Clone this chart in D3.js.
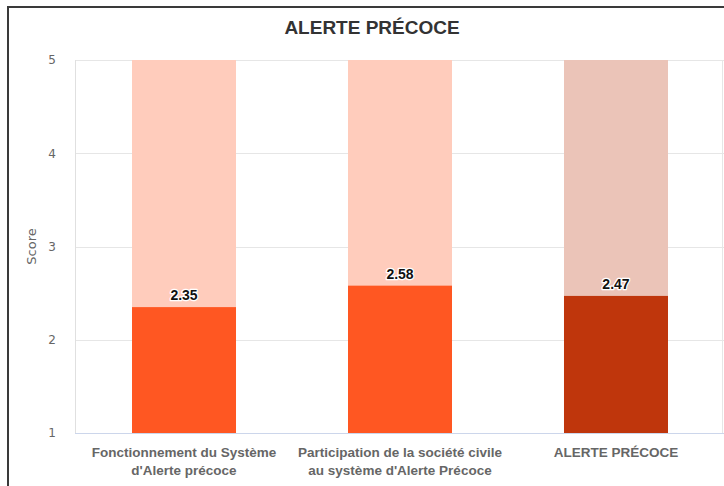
<!DOCTYPE html>
<html>
<head>
<meta charset="utf-8">
<script src="https://cdn.jsdelivr.net/npm/d3@7"></script>
<style>
  body { margin: 0; background: #fff; }
  svg { display: block; font-family: "Liberation Sans", Arial, sans-serif; }
</style>
</head>
<body>
<div id="chart"></div>
<script>
// data
var categories = [
  ["Fonctionnement du Système", "d'Alerte précoce"],
  ["Participation de la société civile", "au système d'Alerte Précoce"],
  ["ALERTE PRÉCOCE"]
];
var scores = [2.35, 2.58, 2.47];
var barColors = ["#ff5722", "#ff5722", "#bf360c"];
var backColors = ["#ffccbc", "#ffccbc", "#ebc4b8"];
var yTicks = [1, 2, 3, 4, 5];

var width = 724, height = 486;
var plotLeft = 76, plotRight = 724, plotTop = 60, plotBottom = 433;

var svg = d3.select("#chart").append("svg")
  .attr("width", width)
  .attr("height", height);

// outer frame (cropped at right and bottom)
svg.append("path")
  .attr("d", "M8,486 L8,7 L724,7")
  .attr("fill", "none")
  .attr("stroke", "#3a3a3a")
  .attr("stroke-width", 2);

svg.append("text")
  .attr("x", 372)
  .attr("y", 34)
  .attr("text-anchor", "middle")
  .attr("font-size", 19)
  .attr("font-weight", "bold")
  .attr("fill", "#333")
  .text("ALERTE PRÉCOCE");

var x = d3.scaleBand()
  .domain(d3.range(categories.length))
  .range([plotLeft, plotRight])
  .paddingInner(0.5185)
  .paddingOuter(0.2593);

var y = d3.scaleLinear()
  .domain([1, 5])
  .range([plotBottom, plotTop]);

// grid
svg.append("g").selectAll("line")
  .data(yTicks)
  .join("line")
  .attr("x1", plotLeft - 1)
  .attr("x2", plotRight)
  .attr("y1", function(d){ return Math.round(y(d)) + 0.5; })
  .attr("y2", function(d){ return Math.round(y(d)) + 0.5; })
  .attr("stroke", "#e6e6e6");

// left & right plot edges
svg.append("line")
  .attr("x1", plotLeft - 0.5).attr("x2", plotLeft - 0.5)
  .attr("y1", plotTop).attr("y2", plotBottom)
  .attr("stroke", "#e0e0e0");
svg.append("line")
  .attr("x1", plotRight - 1.5).attr("x2", plotRight - 1.5)
  .attr("y1", plotTop).attr("y2", plotBottom)
  .attr("stroke", "#e6e6e6");

// background bars up to max
svg.append("g").selectAll("rect")
  .data(scores)
  .join("rect")
  .attr("x", function(d, i){ return x(i); })
  .attr("width", x.bandwidth())
  .attr("y", y(5))
  .attr("height", y(1) - y(5))
  .attr("fill", function(d, i){ return backColors[i]; });

// score bars
svg.append("g").selectAll("rect")
  .data(scores)
  .join("rect")
  .attr("x", function(d, i){ return x(i); })
  .attr("width", x.bandwidth())
  .attr("y", function(d){ return y(d); })
  .attr("height", function(d){ return y(1) - y(d); })
  .attr("fill", function(d, i){ return barColors[i]; });

// value labels
svg.append("g").selectAll("text")
  .data(scores)
  .join("text")
  .attr("x", function(d, i){ return x(i) + x.bandwidth() / 2; })
  .attr("y", function(d){ return y(d) - 7; })
  .attr("text-anchor", "middle")
  .attr("font-size", 14)
  .attr("font-weight", "bold")
  .attr("fill", "#111")
  .attr("stroke", "#fff")
  .attr("stroke-width", 2.5)
  .attr("stroke-linejoin", "round")
  .attr("paint-order", "stroke")
  .text(function(d){ return d.toFixed(2); });

// bottom axis line
svg.append("line")
  .attr("x1", plotLeft - 1).attr("x2", plotRight)
  .attr("y1", plotBottom + 0.5).attr("y2", plotBottom + 0.5)
  .attr("stroke", "#ccd6eb");

// y axis labels
var yAxis = d3.axisLeft(y).tickValues(yTicks).tickFormat(d3.format("d")).tickSize(0).tickPadding(0);
var yg = svg.append("g")
  .attr("transform", "translate(56,0)")
  .call(yAxis);
yg.select(".domain").remove();
yg.selectAll("text")
  .attr("font-size", 12)
  .attr("font-family", "'DejaVu Sans', sans-serif")
  .attr("fill", "#666");

svg.append("text")
  .attr("transform", "translate(36," + y(3) + ") rotate(-90)")
  .attr("text-anchor", "middle")
  .attr("font-size", 13)
  .attr("font-family", "'DejaVu Sans', sans-serif")
  .attr("fill", "#666")
  .text("Score");

// x labels
var xl = svg.append("g").selectAll("text")
  .data(categories)
  .join("text")
  .attr("x", function(d, i){ return x(i) + x.bandwidth() / 2; })
  .attr("y", 457)
  .attr("text-anchor", "middle")
  .attr("font-size", 13.5)
  .attr("font-weight", "bold")
  .attr("fill", "#666");
xl.selectAll("tspan")
  .data(function(d){ return d; })
  .join("tspan")
  .attr("x", function(){ return this.parentNode.getAttribute("x"); })
  .attr("dy", function(d, j){ return j === 0 ? 0 : 18; })
  .text(function(d){ return d; });
</script>
</body>
</html>
